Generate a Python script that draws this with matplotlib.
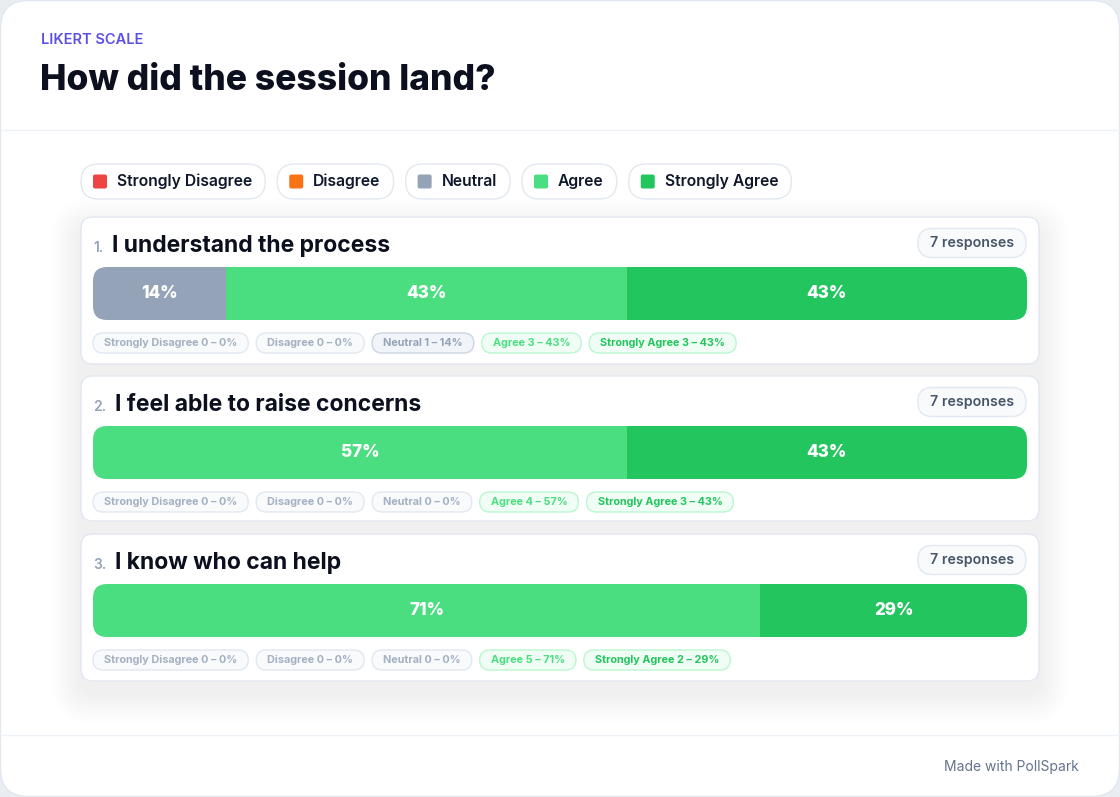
import numpy as np
import matplotlib
matplotlib.use('Agg')
import matplotlib.pyplot as plt
from matplotlib.patches import FancyBboxPatch

plt.rcParams['font.family'] = ['Inter', 'DejaVu Sans']

# data
levels = ['Strongly Disagree', 'Disagree', 'Neutral', 'Agree', 'Strongly Agree']
level_colors = ['#ef4444', '#f97316', '#94a3b8', '#4ade80', '#22c55e']
questions = ['I understand the process', 'I feel able to raise concerns', 'I know who can help']
counts = [[0, 0, 1, 3, 3],
          [0, 0, 0, 4, 3],
          [0, 0, 0, 5, 2]]
responses = [7, 7, 7]

W, H = 1120, 797
fig = plt.figure(figsize=(W / 100, H / 100), dpi=100)
fig.patch.set_facecolor('#e9ecf0')
bg = fig.add_axes([0, 0, 1, 1])
bg.set_xlim(0, W); bg.set_ylim(H, 0); bg.axis('off')
renderer = fig.canvas.get_renderer()


def rbox(x, y, w, h, r, fc, ec='none', lw=1, z=1, alpha=1):
    p = FancyBboxPatch((x, y), w, h, boxstyle=f'round,pad=0,rounding_size={r}',
                       fc=fc, ec=ec, lw=lw, zorder=z, alpha=alpha)
    bg.add_patch(p)
    return p


def text_w(t):
    return t.get_window_extent(renderer).width


# outer card
rbox(0.5, 0.5, W - 1, H - 1, 28, '#ffffff', '#e2e8f0', 1, z=0)
bg.plot([1, W - 1], [130, 130], color='#eef1f5', lw=1, zorder=1)
bg.plot([1, W - 1], [735, 735], color='#eef1f5', lw=1, zorder=1)

bg.text(41, 40, 'LIKERT SCALE', fontsize=10.5, fontweight='semibold', color='#5b50e6',
        va='center', ha='left', fontstretch='expanded')
bg.text(40, 80, 'How did the session land?', fontsize=25.5, fontweight='heavy', color='#0b0f1e',
        va='center', ha='left')
bg.text(1079, 767, 'Made with PollSpark', fontsize=10, color='#64748b', va='center', ha='right')

# legend
x = 81
for lab, col in zip(levels, level_colors):
    t = bg.text(x + 36, 181.5, lab, fontsize=11.3, fontweight='semibold', color='#0f172a',
                va='center', ha='left', zorder=3)
    w = 36 + text_w(t) + 13
    rbox(x, 164, w, 35, 17.5, '#ffffff', '#e2e8f0', 1, z=2)
    rbox(x + 12, 174.5, 14, 14, 2, col, z=3)
    x += w + 12

# question cards
card_y = [217, 376, 534]
card_h = [147, 145, 147]

# one soft shadow behind the card stack
top, bottom = card_y[0], card_y[-1] + card_h[-1]
for i in range(2, 32, 2):
    rbox(81 - i, top - i + 12, 958 + 2 * i, bottom - top + 2 * i, 12 + i, '#1e293b',
         z=1.2, alpha=0.0028)

for qi, (q, cnt) in enumerate(zip(questions, counts)):
    cy = card_y[qi]
    ch = card_h[qi]
    rbox(81, cy, 958, ch, 12, '#ffffff', '#e2e8f0', 1, z=2)

    tn = bg.text(93, cy + 35, f'{qi + 1}.', fontsize=10, fontweight='semibold', color='#94a3b8',
                 va='baseline', ha='left', zorder=3)
    bg.text(93 + text_w(tn) + 9, cy + 35, q, fontsize=16.5, fontweight='bold', color='#0b0f1e',
            va='baseline', ha='left', zorder=3)

    tr = bg.text(1014, cy + 26, f'{responses[qi]} responses', fontsize=10.2, fontweight='semibold',
                 color='#475569', va='center', ha='right', zorder=4)
    rw = text_w(tr) + 24
    rbox(1026 - rw, cy + 11.5, rw, 29, 14.5, '#f8fafc', '#e2e8f0', 1, z=3)

    # stacked bar in its own axes
    bx, by, bw, bh = 93, cy + 50, 934, 53
    ax = fig.add_axes([bx / W, 1 - (by + bh) / H, bw / W, bh / H])
    ax.set_xlim(0, responses[qi]); ax.set_ylim(-0.5, 0.5); ax.axis('off')
    clip = FancyBboxPatch((bx, by), bw, bh, boxstyle='round,pad=0,rounding_size=14',
                          transform=bg.transData, fc='none', ec='none')
    left = np.concatenate([[0], np.cumsum(cnt)[:-1]])
    bars = ax.barh(0, cnt, left=left, height=1, color=level_colors, linewidth=0)
    for b in bars:
        b.set_clip_path(clip)
    for c, l in zip(cnt, left):
        if c > 0:
            ax.text(l + c / 2, 0, f'{round(c / responses[qi] * 100)}%', color='white',
                    fontsize=12.3, fontweight='heavy', ha='center', va='center')

    # count pills
    px = 93
    py = cy + 126
    for li, (lab, col) in enumerate(zip(levels, level_colors)):
        c = cnt[li]
        pct = round(c / responses[qi] * 100)
        if c > 0 and li >= 3:
            fc, ec, tc = '#f0fdf4', '#bbf7d0', col
        elif c > 0:
            fc, ec, tc = '#f1f5f9', '#cbd5e1', '#94a3b8'
        else:
            fc, ec, tc = '#f8fafc', '#e2e8f0', '#a5b1c2'
        t = bg.text(px + 11, py, f'{lab} {c} – {pct}%', fontsize=7.8, fontweight='bold',
                    color=tc, va='center', ha='left', zorder=4)
        pw = text_w(t) + 22
        rbox(px, py - 10, pw, 20, 10, fc, ec, 1, z=3)
        px += pw + 8

fig.savefig('out.png', dpi=100, facecolor=fig.get_facecolor())
